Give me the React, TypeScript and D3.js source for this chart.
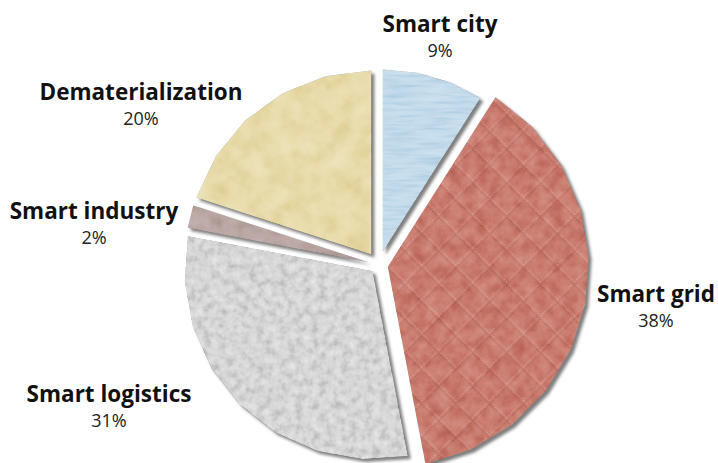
import React from "react";
import * as d3 from "d3";

// ---- data ----
const categories = ["Smart city", "Smart grid", "Smart logistics", "Smart industry", "Dematerialization"];
const shares = [9, 38, 31, 2, 20];
const shareLabels = ["9%", "38%", "31%", "2%", "20%"];

// ---- layout / style ----
const W = 718;
const H = 463;
const CX = 379;
const CY = 265;
const sliceColors = ["#c3dbeb", "#c97b6e", "#d6d6d6", "#b9a5a1", "#e8dbab"];
const sliceOffsets = [14, 9, 9, 11, 13];
const sliceRadii = [182, 201, 188, 184, 184];
const noiseFreq = ["0.03 0.3", "0.08", "0.13", "0.06", "0.05"];
const noiseGain = [0.6, 0.5, 1.1, 0.5, 0.6];
const labelAnchors: [number, number][] = [
  [440, 32],
  [656, 302],
  [109, 402],
  [94, 219],
  [141, 100],
];

const STEP = (15 * Math.PI) / 180;

function polyPath(a0: number, a1: number, r: number): string {
  const n = Math.max(1, Math.ceil((a1 - a0) / STEP));
  const pts: [number, number][] = [[0, 0]];
  for (let i = 0; i <= n; i++) {
    const a = a0 + ((a1 - a0) * i) / n;
    pts.push([r * Math.sin(a), -r * Math.cos(a)]);
  }
  return d3.line().curve(d3.curveLinearClosed)(pts) || "";
}

export default function App() {
  const pie = d3
    .pie<number>()
    .sort(null)
    .startAngle(0)
    .endAngle(2 * Math.PI)
    .value((d) => d);
  const arcs = pie(shares);

  const quiltDots: JSX.Element[] = [];
  const P = 24;
  const nd = 8;
  for (let i = 0; i < nd; i++) {
    const t = (i + 0.5) * (P / nd);
    quiltDots.push(<circle key={`a${i}`} cx={t} cy={1.2} r={0.85} fill="#a35a4f" opacity={0.55} />);
    quiltDots.push(<circle key={`b${i}`} cx={t} cy={-1.2 + P} r={0.85} fill="#e5a89c" opacity={0.6} />);
    quiltDots.push(<circle key={`c${i}`} cx={1.2} cy={t} r={0.85} fill="#a35a4f" opacity={0.55} />);
    quiltDots.push(<circle key={`d${i}`} cx={P - 1.2} cy={t} r={0.85} fill="#e5a89c" opacity={0.6} />);
  }

  return (
    <svg
      width={W}
      height={H}
      viewBox={`0 0 ${W} ${H}`}
      style={{ position: "absolute", left: 0, top: 0, display: "block", background: "#fff" }}
    >
      <defs>
        <pattern id="quilt" patternUnits="userSpaceOnUse" width={P} height={P} patternTransform="rotate(45)">
          <rect width={P} height={P} fill={sliceColors[1]} />
          {quiltDots}
        </pattern>
        {arcs.map((a, i) => {
          const k = noiseGain[i];
          const b = 0.5 - k * 0.5;
          const row = `${k} 0 0 0 ${b}`;
          return (
            <filter
              key={i}
              id={`f${i}`}
              x="-10%"
              y="-10%"
              width="125%"
              height="125%"
              colorInterpolationFilters="sRGB"
            >
              <feTurbulence type="fractalNoise" baseFrequency={noiseFreq[i]} numOctaves={3} seed={i * 7 + 3} result="n" />
              <feColorMatrix in="n" type="matrix" values={`${row} ${row} ${row} 0 0 0 0 1`} result="g" />
              <feBlend in="g" in2="SourceGraphic" mode="soft-light" result="bl" />
              <feComposite in="bl" in2="SourceAlpha" operator="in" result="tex" />
              <feGaussianBlur in="SourceAlpha" stdDeviation="1.6" result="blur" />
              <feOffset in="blur" dx="2.5" dy="2.5" result="ob" />
              <feFlood floodColor="#000" floodOpacity="0.5" />
              <feComposite in2="ob" operator="in" result="sh" />
              <feMerge>
                <feMergeNode in="sh" />
                <feMergeNode in="tex" />
              </feMerge>
            </filter>
          );
        })}
      </defs>

      {arcs.map((a, i) => {
        const mid = (a.startAngle + a.endAngle) / 2;
        const dx = sliceOffsets[i] * Math.sin(mid);
        const dy = -sliceOffsets[i] * Math.cos(mid);
        return (
          <path
            key={categories[i]}
            d={polyPath(a.startAngle, a.endAngle, sliceRadii[i])}
            transform={`translate(${CX + dx},${CY + dy})`}
            fill={i === 1 ? "url(#quilt)" : sliceColors[i]}
            filter={`url(#f${i})`}
          />
        );
      })}

      {categories.map((c, i) => (
        <g key={c} fontFamily="'Open Sans', sans-serif" textAnchor="middle">
          <text x={labelAnchors[i][0]} y={labelAnchors[i][1]} fontSize={22.5} fontWeight={700} fill="#111">
            {c}
          </text>
          <text x={labelAnchors[i][0]} y={labelAnchors[i][1] + 25} fontSize={18} fill="#222">
            {shareLabels[i]}
          </text>
        </g>
      ))}
    </svg>
  );
}
